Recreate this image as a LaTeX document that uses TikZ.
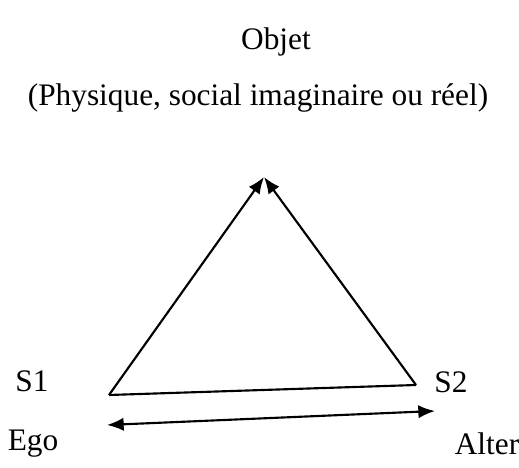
\documentclass[tikz,border=0pt]{standalone}
\usepackage{fontspec}
\setmainfont{Liberation Serif}
\usetikzlibrary{arrows.meta}
\begin{document}
\begin{tikzpicture}[x=0.75pt,y=-0.75pt,font=\fontsize{23.5}{28}\selectfont,
    lien/.style={line width=1.6pt,-{Latex[length=12.5pt,width=10pt]}}]
    \useasboundingbox (0,0) rectangle (519,468);
    \node (objet) at (276,42) {Objet};
    \node (nature) at (258,98) {(Physique, social imaginaire ou réel)};
    \coordinate (sommet) at (264,177);
    \coordinate (s1) at (109,395);
    \coordinate (s2) at (416,385);
    \coordinate (ego) at (107,425);
    \coordinate (alter) at (435,411);
    \draw[lien] (s1) -- (sommet);
    \draw[lien] (s2) -- (sommet);
    \draw[line width=1.6pt] (s1) -- (s2);
    \draw[line width=1.6pt,{Latex[length=12.5pt,width=10pt]}-{Latex[length=12.5pt,width=10pt]}] (ego) -- (alter);
    \node (ls1) at (32,381) {S1};
    \node (ls2) at (451,382) {S2};
    \node (lego) at (33,444) {Ego};
    \node (lalter) at (487,444) {Alter};
\end{tikzpicture}
\end{document}
